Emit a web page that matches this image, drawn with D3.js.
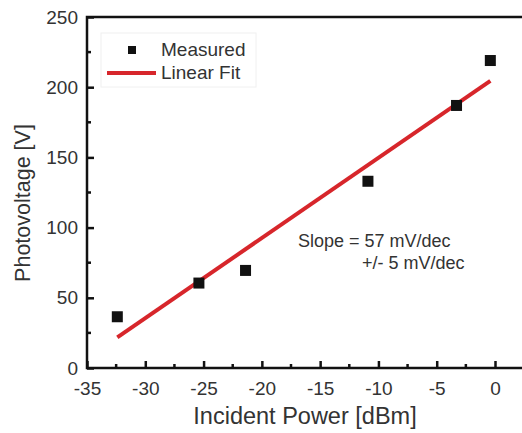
<!DOCTYPE html>
<html>
<head>
<meta charset="utf-8">
<script src="https://cdn.jsdelivr.net/npm/d3@7"></script>
<style>
  body { margin: 0; background: #fff; }
  text { font-family: "Liberation Sans", Arial, sans-serif; fill: #333; }
</style>
</head>
<body>
<script>
var width = 522, height = 433;
var margin = { left: 87, top: 17, bottom: 65 };

// measured points
var powerDbm = [-32.4, -25.4, -21.4, -10.9, -3.3, -0.4];
var photoV = [36.5, 60.5, 69.5, 133, 187, 219];
// linear fit endpoints
var fitX = [-32.4, -0.4];
var fitY = [21.8, 204.5];

var xTicks = [-35, -30, -25, -20, -15, -10, -5, 0];
var yTicks = [0, 50, 100, 150, 200, 250];

var color_fit = "#d7262b";
var color_pt = "#111";

var x = d3.scaleLinear().domain([-35, 0]).range([margin.left, 495]);
var y = d3.scaleLinear().domain([0, 250]).range([height - margin.bottom, margin.top]);

var svg = d3.select("body").append("svg")
  .attr("width", width).attr("height", height);

// frame (right edge falls outside picture)
var xr = x(3.5);
svg.append("path")
  .attr("d", "M" + xr + "," + y(250) + "H" + x(-35) + "V" + y(0) + "H" + xr)
  .attr("fill", "none").attr("stroke", "#111").attr("stroke-width", 2.5);

// x axis ticks, pointing inward
var xAxis = d3.axisBottom(x).tickValues(xTicks).tickSizeInner(-7).tickSizeOuter(0)
  .tickPadding(14).tickFormat(d3.format("d"));
var gx = svg.append("g").attr("transform", "translate(0," + y(0) + ")").call(xAxis);
gx.select(".domain").remove();
gx.selectAll("line").attr("stroke", "#111").attr("stroke-width", 2.5);
gx.selectAll("text").attr("font-size", 19).attr("fill", "#333")
  .text(function(d) { return d < 0 ? "-" + Math.abs(d) : d; });
gx.selectAll(".minor").data(xTicks.slice(0, -1).map(function(d) { return d + 2.5; }))
  .enter().append("line")
  .attr("x1", function(d) { return x(d); }).attr("x2", function(d) { return x(d); })
  .attr("y1", 0).attr("y2", -4).attr("stroke", "#111").attr("stroke-width", 2.5);

// y axis
var yAxis = d3.axisLeft(y).tickValues(yTicks).tickSizeInner(-7).tickSizeOuter(0)
  .tickPadding(9);
var gy = svg.append("g").attr("transform", "translate(" + x(-35) + ",0)").call(yAxis);
gy.select(".domain").remove();
gy.selectAll("line").attr("stroke", "#111").attr("stroke-width", 2.5);
gy.selectAll("text").attr("font-size", 19).attr("fill", "#333");
gy.selectAll(".minor").data(yTicks.slice(0, -1).map(function(d) { return d + 25; }))
  .enter().append("line")
  .attr("y1", function(d) { return y(d); }).attr("y2", function(d) { return y(d); })
  .attr("x1", 0).attr("x2", 4).attr("stroke", "#111").attr("stroke-width", 2.5);

// axis titles
svg.append("text").attr("x", 305).attr("y", 424)
  .attr("text-anchor", "middle").attr("font-size", 23.5)
  .text("Incident Power [dBm]");
svg.append("text")
  .attr("transform", "translate(30,203) rotate(-90)")
  .attr("text-anchor", "middle").attr("font-size", 21.5)
  .text("Photovoltage [V]");

// fit line
svg.append("line")
  .attr("x1", x(fitX[0])).attr("y1", y(fitY[0]))
  .attr("x2", x(fitX[1])).attr("y2", y(fitY[1]))
  .attr("stroke", color_fit).attr("stroke-width", 4);

// points
var s = 11;
svg.selectAll(".pt").data(powerDbm).enter().append("rect")
  .attr("x", function(d) { return x(d) - s / 2; })
  .attr("y", function(d, i) { return y(photoV[i]) - s / 2; })
  .attr("width", s).attr("height", s).attr("fill", color_pt);

// legend
var lg = svg.append("g");
lg.append("rect").attr("x", 101).attr("y", 33).attr("width", 155).attr("height", 54)
  .attr("fill", "none").attr("stroke", "#f0f0f0");
lg.append("rect").attr("x", 128).attr("y", 46).attr("width", 8).attr("height", 8)
  .attr("fill", color_pt);
lg.append("text").attr("x", 161).attr("y", 56).attr("font-size", 19).text("Measured");
lg.append("line").attr("x1", 107).attr("x2", 156).attr("y1", 73).attr("y2", 73)
  .attr("stroke", color_fit).attr("stroke-width", 4);
lg.append("text").attr("x", 161).attr("y", 79).attr("font-size", 19).text("Linear Fit");

// annotation
svg.append("text").attr("x", 298).attr("y", 247).attr("font-size", 18)
  .text("Slope = 57 mV/dec");
svg.append("text").attr("x", 362).attr("y", 269).attr("font-size", 18)
  .text("+/- 5 mV/dec");
</script>
</body>
</html>
